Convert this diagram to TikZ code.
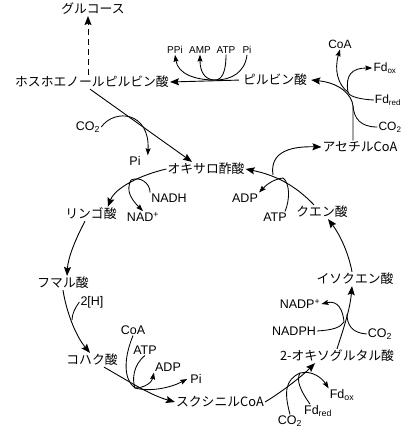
\documentclass[tikz,border=0pt]{standalone}
\usepackage{fontspec}
\setmainfont{Liberation Sans}
\newfontfamily\jp{Noto Sans CJK JP}
\usetikzlibrary{arrows.meta}
\begin{document}
\begin{tikzpicture}[x=1pt,y=-1pt,
  jl/.style={font=\jp\fontsize{12.8}{14}\selectfont, inner sep=1pt},
  lb/.style={font=\fontsize{12.5}{13}\selectfont, inner sep=1pt},
  sl/.style={font=\fontsize{10}{11}\selectfont, inner sep=1pt},
  ml/.style={font=\fontsize{12}{13}\selectfont, inner sep=1pt},
  ar/.style={-{Stealth[length=9pt,width=7pt,inset=1.5pt]}, line width=0.9pt},
  sa/.style={-{Stealth[length=7pt,width=5pt,inset=1pt]}, line width=0.85pt},
  ln/.style={line width=0.85pt}]
\useasboundingbox[fill=white] (0,0) rectangle (410,437);
% metabolites
\node[jl] (glc) at (93,9) {グルコース};
\node[jl] (pep) at (92,82) {ホスホエノールピルビン酸};
\node[jl] (pyr) at (275,80) {ピルビン酸};
\node[jl] (acc) at (360,147) {アセチルCoA};
\node[jl] (oaa) at (206,169) {オキサロ酢酸};
\node[jl] (cit) at (322,212) {クエン酸};
\node[jl] (icit) at (355,279) {イソクエン酸};
\node[jl] (oxg) at (337,356) {2-オキソグルタル酸};
\node[jl] (scoa) at (220,402) {スクシニルCoA};
\node[jl] (suc) at (92,360) {コハク酸};
\node[jl] (fum) at (63,283) {フマル酸};
\node[jl] (mal) at (91,214) {リンゴ酸};
% cofactors
\node[sl] (ppi) at (175,50) {PPi};
\node[sl] (amp) at (200,50) {AMP};
\node[sl] (atp1) at (226,50) {ATP};
\node[sl] (pi1) at (247,50) {Pi};
\node[ml] (coa1) at (340,44) {CoA};
\node[ml] (fdox1) at (385,68) {Fd\textsubscript{ox}};
\node[ml] (fdred1) at (388,100) {Fd\textsubscript{red}};
\node[ml] (co2a) at (390,127) {CO\textsubscript{2}};
\node[lb] (co2b) at (88,127) {CO\textsubscript{2}};
\node[lb] (pi2) at (135,161) {Pi};
\node[lb] (nadh) at (169,198) {NADH};
\node[lb] (nadp) at (143,217) {NAD\textsuperscript{+}};
\node[lb] (adp3) at (245,198) {ADP};
\node[lb] (atp3) at (275,217) {ATP};
\node[lb] (h2) at (92,302) {2[H]};
\node[lb] (coa2) at (133,330) {CoA};
\node[lb] (atp2) at (145,350) {ATP};
\node[lb] (adp2) at (168,367) {ADP};
\node[lb] (pi3) at (196,379) {Pi};
\node[lb] (nadpp) at (300,304) {NADP\textsuperscript{+}};
\node[lb] (nadph) at (294,331) {NADPH};
\node[lb] (co2d) at (380,334) {CO\textsubscript{2}};
\node[lb] (fdox2) at (342,395) {Fd\textsubscript{ox}};
\node[lb] (fdred2) at (318,411) {Fd\textsubscript{red}};
\node[lb] (co2c) at (290,421) {CO\textsubscript{2}};
% junctions
\coordinate (j1) at (215,80);
\coordinate (j2) at (348,92);
\coordinate (j2b) at (353,106);
\coordinate (j3) at (131,180);
\coordinate (j4) at (72,320);
\coordinate (j5) at (135,388);
\coordinate (j6) at (300,373);
\coordinate (j7) at (344,322);
\coordinate (j7b) at (347,314);
\coordinate (j8) at (283,178);
\coordinate (j8b) at (273,175);
% PEP -> glucose
\draw[ar,dashed,dash pattern=on 6pt off 4pt] ([xshift=-4pt]pep.north) -- ([xshift=-5pt]glc.south);
% pyruvate -> PEP
\draw[ar,shorten <=3pt] (pyr.west) -- (pep.east);
\draw[sa] (j1) .. controls (195,80) and (178,74) .. (ppi.south);
\draw[sa] (j1) .. controls (205,80) and (200,72) .. (amp.south);
\draw[ln] (atp1.south) .. controls (226,72) and (222,80) .. (j1);
\draw[ln] (pi1.south) .. controls (245,72) and (232,80) .. (j1);
% acetyl-CoA -> pyruvate
\draw[ar] ([xshift=-7pt]acc.north) -- (j2b) .. controls (352,95) and (340,83) .. ([xshift=3pt]pyr.east);
\draw[sa] (j2) .. controls (338,85) and (334,70) .. (coa1.south);
\draw[sa] (j2) .. controls (345,75) and (352,68) .. (fdox1.west);
\draw[ln] (fdred1.west) .. controls (355,99) and (348,95) .. (j2);
\draw[ln] (co2a.west) .. controls (360,127) and (354,118) .. (j2b);
% PEP -> OAA
\draw[ar] ([xshift=-2pt]pep.south) -- ([xshift=-14pt]oaa.north);
\draw[sa] (co2b.east) .. controls (115,108) and (150,112) .. ([xshift=6pt]pi2.north east);
% OAA -> malate
\draw[ar] (oaa.west) .. controls (140,175) and (115,188) .. ([xshift=-10pt]mal.north east);
\draw[ln] (nadh.north west) .. controls (150,183) and (140,176) .. (j3);
\draw[sa] (j3) .. controls (126,190) and (130,198) .. (nadp.north);
% malate -> fumarate
\draw[ar] ([xshift=-6pt]mal.south) .. controls (75,240) and (68,258) .. ([xshift=4pt]fum.north);
% fumarate -> succinate
\draw[ar] (fum.south) .. controls (66,310) and (75,335) .. ([xshift=-2pt]suc.north);
\draw[ln] (h2.west) .. controls (75,308) and (72,314) .. (j4);
% succinate -> succinyl-CoA
\draw[ar] ([xshift=12pt]suc.south) .. controls (130,382) and (150,395) .. (scoa.west);
\draw[ln] (coa2.south) .. controls (123,360) and (124,380) .. (j5);
\draw[ln] (atp2.south) .. controls (133,365) and (132,380) .. (j5);
\draw[sa] (j5) .. controls (145,388) and (152,382) .. (adp2.south west);
\draw[sa] (j5) .. controls (150,392) and (170,388) .. ([xshift=-2pt]pi3.west);
% succinyl-CoA -> 2-oxoglutarate
\draw[ar] (scoa.east) .. controls (280,393) and (300,378) .. ([xshift=-22pt]oxg.south);
\draw[sa] (j6) .. controls (312,370) and (322,378) .. (fdox2.north west);
\draw[ln] (co2c.north) .. controls (284,392) and (285,380) .. (j6);
\draw[ln] ([xshift=-8pt]fdred2.north) .. controls (300,390) and (296,380) .. (j6);
% 2-oxoglutarate -> isocitrate
\draw[ar] (oxg.north) .. controls (343,330) and (350,310) .. ([xshift=-3pt]icit.south);
\draw[sa] (j7) .. controls (343,310) and (338,300) .. (nadpp.east);
\draw[ln] (nadph.east) .. controls (332,330) and (340,328) .. (j7);
\draw[ln] (co2d.west) .. controls (352,333) and (347,325) .. (j7b);
% isocitrate -> citrate
\draw[ar] ([xshift=-3pt]icit.north) .. controls (348,250) and (338,232) .. ([xshift=6pt]cit.south);
% citrate -> OAA
\draw[ar] ([xshift=-8pt]cit.north) .. controls (295,185) and (275,175) .. (oaa.east);
\draw[ln] ([xshift=10pt]atp3.north) .. controls (290,200) and (290,183) .. (j8);
\draw[sa] (j8) .. controls (275,179) and (268,183) .. (adp3.north east);
\draw[ar] (j8b) .. controls (270,155) and (285,146) .. (acc.west);
\end{tikzpicture}
\end{document}
